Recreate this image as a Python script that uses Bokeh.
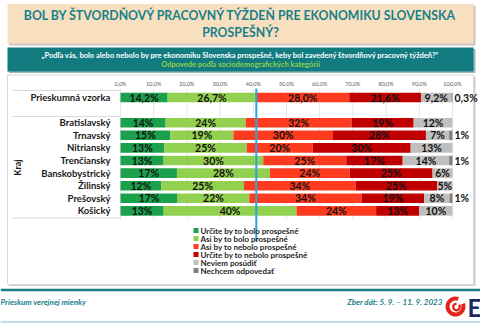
import math
from bokeh.plotting import figure
from bokeh.models import Range1d
from bokeh.core.properties import value
from bokeh.embed import file_html
from bokeh.resources import INLINE

# ---------------- data ----------------
categories = ["Prieskumná vzorka", "Bratislavský", "Trnavský", "Nitriansky", "Trenčiansky",
              "Banskobystrický", "Žilinský", "Prešovský", "Košický"]
series_names = ["Určite by to bolo prospešné", "Asi by to bolo prospešné",
                "Asi by to nebolo prospešné", "Určite by to nebolo prospešné",
                "Neviem posúdiť", "Nechcem odpovedať"]
urcite_ano = [14.2, 13.6, 15, 13.2, 13, 17, 12.3, 17.2, 13]
asi_ano = [26.7, 24.1, 19, 24.8, 30, 28, 24.9, 21.6, 40]
asi_nie = [28.0, 31.9, 30, 19.9, 25, 24, 33.6, 33.8, 24]
urcite_nie = [21.6, 18.7, 28, 29.5, 17, 25, 24.6, 18.9, 13]
neviem = [9.2, 11.7, 7, 12.6, 14, 6, 4.6, 7.6, 10]
nechcem = [0.3, 0, 1, 0, 1, 0, 0, 0.9, 0]
series_values = [urcite_ano, asi_ano, asi_nie, urcite_nie, neviem, nechcem]
tick_values = [0, 10, 20, 30, 40, 50, 60, 70, 80, 90, 100]
tick_labels = ["0,0%", "10,0%", "20,0%", "30,0%", "40,0%", "50,0%", "60,0%",
               "70,0%", "80,0%", "90,0%", "100,0%"]
axis_group_label = "Kraj"
title_lines = ["BOL BY ŠTVORDŇOVÝ PRACOVNÝ TÝŽDEŇ PRE EKONOMIKU SLOVENSKA", "PROSPEŠNÝ?"]
question = "„Podľa vás, bolo alebo nebolo by pre ekonomiku Slovenska prospešné, keby bol zavedený štvordňový pracovný týždeň?“"
subtitle = "Odpovede podľa sociodemografických kategórií"
footer_left = "Prieskum verejnej mienky"
footer_right = "Zber dát: 5. 9. – 11. 9. 2023"

# ---------------- style ----------------
colors = ["#1ba14c", "#92d050", "#ff3b1f", "#c00000", "#bfbfbf", "#7f7f7f"]
FONT = value("Lato")
TEAL = "#17818a"
W, H = 480, 323
X0, PX_PER_PCT = 120, 3.32
ROW0, PX_PER_ROW = 97, 12.6
rows = [0] + [i + 2 for i in range(len(categories) - 1)]

p = figure(width=W, height=H, x_range=Range1d(0, W), y_range=Range1d(H, 0),
           output_backend="svg", toolbar_location=None, x_axis_type=None, y_axis_type=None,
           min_border=0, title=None, outline_line_color=None)
p.grid.visible = False
p.background_fill_color = "white"
p.border_fill_color = "white"
p.extra_x_ranges = {"pct": Range1d(-X0 / PX_PER_PCT, (W - X0) / PX_PER_PCT)}
p.extra_y_ranges = {"row": Range1d((H - ROW0) / PX_PER_ROW, -ROW0 / PX_PER_ROW)}

# header boxes
p.quad(left=8.5, right=475, top=5.5, bottom=45, fill_color="#c9c4bd", line_color=None)
p.quad(left=7, right=473, top=3.5, bottom=43, fill_color="#f8dfc0", line_color=None)
p.text(x=[240, 240], y=[14.5, 32], text=title_lines, text_align="center", text_baseline="middle",
       text_font=FONT, text_font_style="bold", text_font_size="12.3px", text_color=TEAL)
p.quad(left=8.5, right=475, top=48.5, bottom=72.5, fill_color="#9fb9ba", line_color=None)
p.quad(left=7, right=473, top=47, bottom=71, fill_color="#127b80", line_color=None)
p.text(x=[240], y=[54.5], text=[question], text_align="center", text_baseline="middle",
       text_font=FONT, text_font_style="bold", text_font_size="7.5px", text_color="white")
p.text(x=[240], y=[64], text=[subtitle], text_align="center", text_baseline="middle",
       text_font=FONT, text_font_style="bold", text_font_size="7.5px", text_color="#8fd14a")

# panel
p.quad(left=8.5, right=475, top=76, bottom=285.5, fill_color="#cfcfcf", line_color=None)
p.quad(left=7, right=473, top=74.5, bottom=284, fill_color="white", line_color="#d6d6d6", line_width=1)

# footer
p.segment(x0=[0], x1=[W], y0=[289.5], y1=[289.5], line_color="#1b7f86", line_width=2.5)
p.segment(x0=[0], x1=[W], y0=[321.5], y1=[321.5], line_color="#a9d6d8", line_width=1.5)
p.text(x=[0], y=[301], text=[footer_left], text_align="left", text_baseline="middle",
       text_font=FONT, text_font_style="bold italic", text_font_size="8px", text_color=TEAL)
p.text(x=[442], y=[301], text=[footer_right], text_align="right", text_baseline="middle",
       text_font=FONT, text_font_style="bold italic", text_font_size="8px", text_color=TEAL)
# logo
p.annular_wedge(x=[455], y=[306], inner_radius=6, outer_radius=10, start_angle=math.radians(70),
                end_angle=math.radians(20), fill_color="#e3241b", line_color=None)
p.annular_wedge(x=[456], y=[306.5], inner_radius=2, outer_radius=4.5, start_angle=math.radians(90),
                end_angle=math.radians(40), fill_color="#e3241b", line_color=None)
p.text(x=[467], y=[307], text=["E"], text_align="left", text_baseline="middle",
       text_font=FONT, text_font_style="bold", text_font_size="24px", text_color="#1d2a5e")

# grid + tick labels
p.segment(x0=tick_values, x1=tick_values, y0=88, y1=218, x_range_name="pct",
          line_color="#e6e6e6", line_width=1)
p.text(x=tick_values, y=83, text=tick_labels, x_range_name="pct", text_align="center",
       text_baseline="middle", text_font=FONT, text_font_size="5.5px", text_color="#595959")
# separators on the label side
p.segment(x0=12, x1=X0, y0=[90, 116, 217.5], y1=[90, 116, 217.5], line_color="#dadada", line_width=1)

# bars
left = [0.0] * len(categories)
lab_x, lab_y, lab_t, out_x, out_y, out_t = [], [], [], [], [], []
for s, vals in enumerate(series_values):
    right = [l + v for l, v in zip(left, vals)]
    p.hbar(y=rows, left=left, right=right, height=0.76, x_range_name="pct", y_range_name="row",
           fill_color=colors[s], line_color=None)
    for i, v in enumerate(vals):
        if v <= 0:
            continue
        txt = (f"{v:.1f}".replace(".", ",") if i == 0 else f"{round(v)}") + "%"
        if v >= 3:
            lab_x.append((left[i] + right[i]) / 2); lab_y.append(rows[i]); lab_t.append(txt)
        else:
            out_x.append(100.6); out_y.append(rows[i]); out_t.append(txt)
    left = right

p.text(x=lab_x, y=lab_y, text=lab_t, x_range_name="pct", y_range_name="row", text_align="center",
       text_baseline="middle", text_font=FONT, text_font_style="bold", text_font_size="10.5px",
       text_color="#111111")
p.text(x=out_x, y=out_y, text=out_t, x_range_name="pct", y_range_name="row", text_align="left",
       text_baseline="middle", text_font=FONT, text_font_style="bold", text_font_size="10.5px",
       text_color="#111111")

# category labels
p.text(x=-3, y=rows, text=categories, x_range_name="pct", y_range_name="row", text_align="right",
       text_baseline="middle", text_font=FONT, text_font_style="bold", text_font_size="9.5px",
       text_color="#1a1a1a")
p.text(x=[17], y=[167], text=[axis_group_label], angle=math.pi / 2, text_align="center",
       text_baseline="middle", text_font=FONT, text_font_style="bold", text_font_size="9px",
       text_color="#1a1a1a")

# reference line: share of positive answers in the whole sample
pos = urcite_ano[0] + asi_ano[0]
p.segment(x0=[pos], x1=[pos], y0=[88], y1=[241], x_range_name="pct", line_color="#2aa6df", line_width=2)

# legend
leg_y = [230 + 8 * i for i in range(len(series_names))]
p.rect(x=195.5, y=leg_y, width=5, height=5, fill_color=colors, line_color=None)
p.text(x=200, y=leg_y, text=series_names, text_align="left", text_baseline="middle",
       text_font=FONT, text_font_style="bold", text_font_size="8px", text_color="#262626")

open("out.html", "w").write(file_html(p, INLINE))
